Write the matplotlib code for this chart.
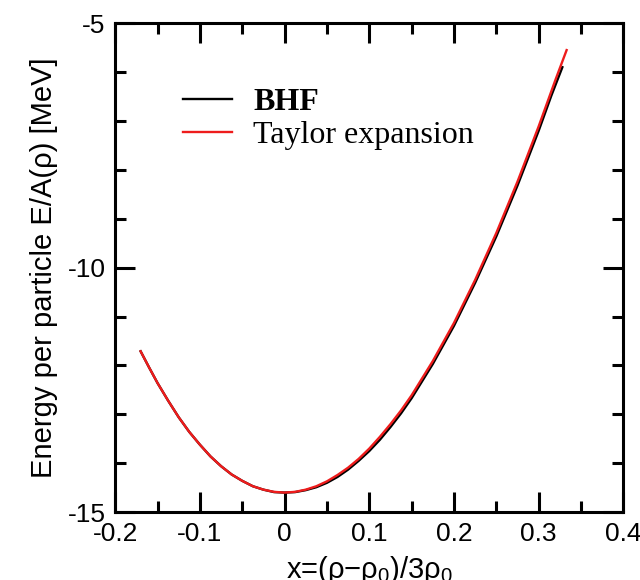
import matplotlib
matplotlib.use("Agg")
import matplotlib.pyplot as plt
from matplotlib.ticker import MultipleLocator

plt.rcParams['mathtext.fontset'] = 'custom'
plt.rcParams['mathtext.rm'] = 'Liberation Sans'
plt.rcParams['mathtext.it'] = 'Liberation Sans:italic'

# energy per particle vs. x = (rho - rho0)/3rho0
x_taylor = [-0.17, -0.16, -0.15, -0.1375, -0.125, -0.1125, -0.1, -0.0875, -0.075, -0.0625,
            -0.05, -0.0375, -0.025, -0.0125, 0.0, 0.0125, 0.025, 0.0375, 0.05, 0.0625,
            0.075, 0.0875, 0.1, 0.1125, 0.125, 0.1375, 0.15, 0.175, 0.2, 0.225,
            0.25, 0.275, 0.3, 0.32, 0.333]
e_taylor = [-11.71, -12.04, -12.36, -12.72, -13.06, -13.36, -13.62, -13.86, -14.06, -14.23,
            -14.36, -14.47, -14.54, -14.585, -14.60, -14.585, -14.54, -14.47, -14.37, -14.24,
            -14.09, -13.91, -13.70, -13.46, -13.20, -12.92, -12.61, -11.91, -11.13, -10.25,
            -9.29, -8.24, -7.11, -6.15, -5.55]

x_bhf = [-0.17, -0.16, -0.15, -0.1375, -0.125, -0.1125, -0.1, -0.0875, -0.075, -0.0625,
         -0.05, -0.0375, -0.025, -0.0125, 0.0, 0.0125, 0.025, 0.0375, 0.05, 0.0625,
         0.075, 0.0875, 0.1, 0.1125, 0.125, 0.1375, 0.15, 0.175, 0.2, 0.225,
         0.25, 0.275, 0.3, 0.315, 0.328]
e_bhf = [-11.71, -12.04, -12.36, -12.72, -13.06, -13.36, -13.62, -13.86, -14.06, -14.23,
         -14.36, -14.47, -14.54, -14.59, -14.60, -14.59, -14.55, -14.49, -14.40, -14.28,
         -14.13, -13.95, -13.75, -13.52, -13.26, -12.98, -12.67, -11.97, -11.19, -10.31,
         -9.36, -8.32, -7.20, -6.48, -5.90]

fig = plt.figure(figsize=(6.4, 5.8), dpi=100)
ax = fig.add_axes([0.180, 0.117, 0.794, 0.843])

ax.plot(x_bhf, e_bhf, color='black', lw=1.7, label='BHF')
ax.plot(x_taylor, e_taylor, color='#ee1c1c', lw=1.7, label='Taylor expansion')

ax.set_xlim(-0.2, 0.4)
ax.set_ylim(-15, -5)
ax.xaxis.set_minor_locator(MultipleLocator(0.05))
ax.yaxis.set_minor_locator(MultipleLocator(1))
ax.set_xticks([-0.2, -0.1, 0, 0.1, 0.2, 0.3, 0.4])
ax.set_xticklabels(['-0.2', '-0.1', '0', '0.1', '0.2', '0.3', '0.4'])
ax.set_yticks([-15, -10, -5])
ax.set_yticklabels(['-15', '-10', '-5'])

for s in ax.spines.values():
    s.set_linewidth(2.2)
ax.tick_params(which='both', direction='in', top=True, right=True, width=2.2)
ax.tick_params(which='major', length=14.5, pad=7)
ax.tick_params(which='minor', length=8)
for lab in ax.get_xticklabels() + ax.get_yticklabels():
    lab.set_family('Liberation Sans')
    lab.set_fontsize(19)

ax.set_xlabel('x=(ρ−ρ$_0$)/3ρ$_0$', family='Liberation Sans', fontsize=21, labelpad=6)
ax.set_ylabel('Energy per particle E/A(ρ) [MeV]', family='Liberation Sans', fontsize=21, labelpad=7)

leg = ax.legend(loc='upper left', bbox_to_anchor=(0.134, 0.868), frameon=False,
                borderpad=0, borderaxespad=0, handlelength=1.53, handletextpad=0.66,
                labelspacing=0.12, prop={'family': 'Liberation Serif', 'size': 23})
leg.get_texts()[0].set_fontweight('bold')

fig.savefig('out.png', dpi=100)
